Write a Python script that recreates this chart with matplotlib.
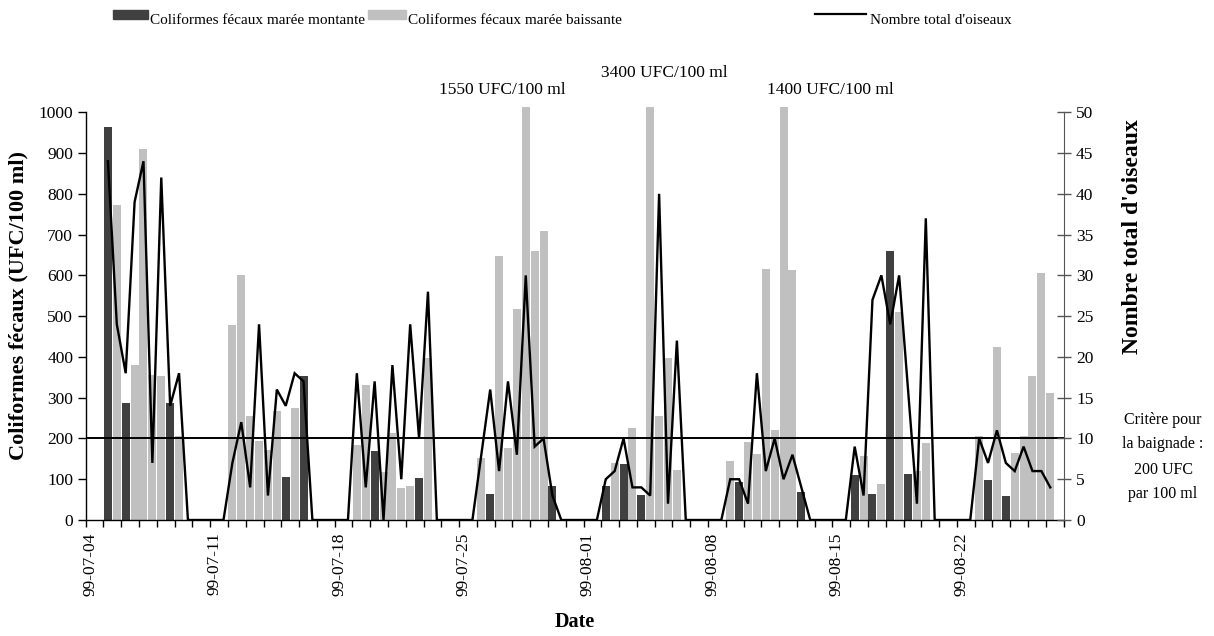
import numpy as np
import matplotlib
matplotlib.use("Agg")
import matplotlib.pyplot as plt
from matplotlib.patches import Rectangle
from matplotlib.lines import Line2D
from matplotlib.transforms import Bbox, TransformedBbox

plt.rcParams['font.family'] = ['Liberation Serif', 'DejaVu Serif']

# two sampling slots per day, one row per week (first slot = 99-07-04)
montante = [
    0, 0, 965, 0, 287, 0, 0, 0, 0, 287, 0, 0, 0, 0,
    0, 0, 0, 0, 0, 0, 0, 0, 105, 0, 353, 0, 0, 0,
    0, 0, 0, 0, 170, 0, 0, 0, 0, 102, 0, 0, 0, 0,
    0, 0, 0, 64, 0, 0, 0, 0, 0, 0, 83, 0, 0, 0,
    0, 0, 83, 0, 137, 0, 61, 0, 0, 0, 0, 0, 0, 0,
    0, 0, 0, 92, 0, 0, 0, 0, 0, 0, 69, 0, 0, 0,
    0, 0, 110, 0, 64, 0, 660, 0, 114, 0, 0, 0, 0, 0,
    0, 0, 0, 97, 0, 60, 0, 0, 0, 0, 0, 0,
]
baissante = [
    0, 0, 0, 772, 0, 380, 910, 356, 353, 0, 206, 0, 0, 0,
    0, 0, 478, 601, 255, 194, 172, 267, 0, 275, 0, 0, 0, 0,
    0, 0, 184, 330, 0, 118, 214, 78, 84, 0, 397, 0, 0, 0,
    0, 0, 153, 0, 648, 177, 517, 1550, 660, 709, 0, 0, 0, 0,
    0, 0, 0, 139, 0, 226, 0, 3400, 255, 398, 123, 0, 0, 0,
    0, 0, 145, 0, 192, 162, 616, 221, 1400, 613, 0, 0, 0, 0,
    0, 0, 0, 157, 0, 88, 0, 509, 0, 121, 190, 0, 0, 0,
    0, 0, 206, 0, 425, 0, 165, 206, 352, 607, 312, 0,
]
oiseaux = [
    None, None, 44, 24, 18, 39, 44, 7, 42, 14, 18, 0, 0, 0,
    0, 0, 7, 12, 4, 24, 3, 16, 14, 18, 17, 0, 0, 0,
    0, 0, 18, 4, 17, 0, 19, 5, 24, 10, 28, 0, 0, 0,
    0, 0, 8, 16, 6, 17, 8, 30, 9, 10, 3, 0, 0, 0,
    0, 0, 5, 6, 10, 4, 4, 3, 40, 2, 22, 0, 0, 0,
    0, 0, 5, 5, 2, 18, 6, 10, 5, 8, 4, 0, 0, 0,
    0, 0, 9, 3, 27, 30, 24, 30, 16, 2, 37, 0, 0, 0,
    0, 0, 10, 7, 11, 7, 6, 9, 6, 6, 4, None,
]
semaines = ['99-07-04', '99-07-11', '99-07-18', '99-07-25',
            '99-08-01', '99-08-08', '99-08-15', '99-08-22']
critere = 200

W, H = 1214, 636
fig = plt.figure(figsize=(W / 100, H / 100), dpi=100)
ax = fig.add_axes([85.7 / W, 1 - 520 / H, 977.9 / W, 407.7 / H])
ax2 = ax.twinx()

x = np.arange(len(montante))
dark = '#404040'
light = '#c0c0c0'

# bars over 1000 are cut just above the top of the plot
clip = Rectangle((-0.5, 0), len(x), 1014, transform=ax.transData)
for serie, col in ((montante, dark), (baissante, light)):
    bars = ax.bar(x, serie, width=0.9, color=col, linewidth=0, zorder=2)
    for b in bars:
        b.set_clip_path(clip)

ax.axhline(critere, color='black', lw=1.4, zorder=3)

y2 = np.array([np.nan if v is None else v for v in oiseaux], dtype=float)
ax2.plot(x, y2, color='black', lw=1.7, solid_joinstyle='miter')

ax.set_xlim(-0.5, len(x) - 0.5)
ax.set_ylim(0, 1000)
ax2.set_ylim(0, 50)

ax.set_yticks(np.arange(0, 1001, 100))
ax2.set_yticks(np.arange(0, 51, 5))
ax.set_xticks(np.arange(0, len(x), 14))
ax.set_xticklabels(semaines, rotation=90)
ax.set_xticks(np.arange(-0.5, len(x), 2), minor=True)

ax.tick_params(axis='x', which='major', length=0, pad=9, labelsize=12.5)
ax.tick_params(axis='x', which='minor', length=5, width=1, direction='out')
ax.tick_params(axis='y', length=6, width=1, direction='out', labelsize=12.5, pad=3)
ax2.tick_params(axis='y', length=10, width=1, direction='inout', labelsize=12.5,
                pad=4, color='#555555')

for s in ('top', 'right'):
    ax.spines[s].set_visible(False)
for s in ('top', 'left', 'bottom'):
    ax2.spines[s].set_visible(False)
ax2.spines['right'].set_color('#555555')
ax.spines['left'].set_linewidth(1)
ax.spines['bottom'].set_linewidth(1)

# values beyond the axis are written above the plot
decal = {49: (-23, 22), 63: (14, 39), 78: (47, 22)}
top_cut = TransformedBbox(Bbox([[0, 0], [1, 1 - 65 / H]]), fig.transFigure)
for i, v in enumerate(baissante):
    if v > 1000:
        dx, dy = decal[i]
        t = ax.annotate(f'{v} UFC/100 ml', xy=(i, 1000), xytext=(dx, dy),
                        textcoords='offset pixels', ha='center', va='center',
                        fontsize=12.5, annotation_clip=False)
        t.set_clip_box(top_cut)
        t.set_clip_on(True)

fig.text(18 / W, 1 - 305 / H, 'Coliformes fécaux (UFC/100 ml)', rotation=90,
         ha='center', va='center', fontsize=16, fontweight='bold')
fig.text(1133 / W, 1 - 237 / H, "Nombre total d'oiseaux", rotation=90,
         ha='center', va='center', fontsize=17, fontweight='bold')
fig.text(575 / W, 1 - 622 / H, 'Date', ha='center', va='center',
         fontsize=14.5, fontweight='bold')
fig.text(1163 / W, 1 - 457 / H, 'Critère pour\nla baignade :\n200 UFC\npar 100 ml',
         ha='center', va='center', fontsize=11.5, linespacing=1.75)

# legend along the top
leg_y = 1 - 20 / H
fig.add_artist(Rectangle((113 / W, 1 - 19 / H), 35 / W, 9 / H,
                         transform=fig.transFigure, color=dark))
fig.text(150 / W, leg_y, 'Coliformes fécaux marée montante', va='center', fontsize=11)
fig.add_artist(Rectangle((368 / W, 1 - 19 / H), 38 / W, 9 / H,
                         transform=fig.transFigure, color=light))
fig.text(408 / W, leg_y, 'Coliformes fécaux marée baissante', va='center', fontsize=11)
fig.add_artist(Line2D([815 / W, 866 / W], [1 - 14 / H, 1 - 14 / H],
                      transform=fig.transFigure, color='black', lw=1.6))
fig.text(870 / W, leg_y, "Nombre total d'oiseaux", va='center', fontsize=11)

fig.savefig('out.png', dpi=100)
